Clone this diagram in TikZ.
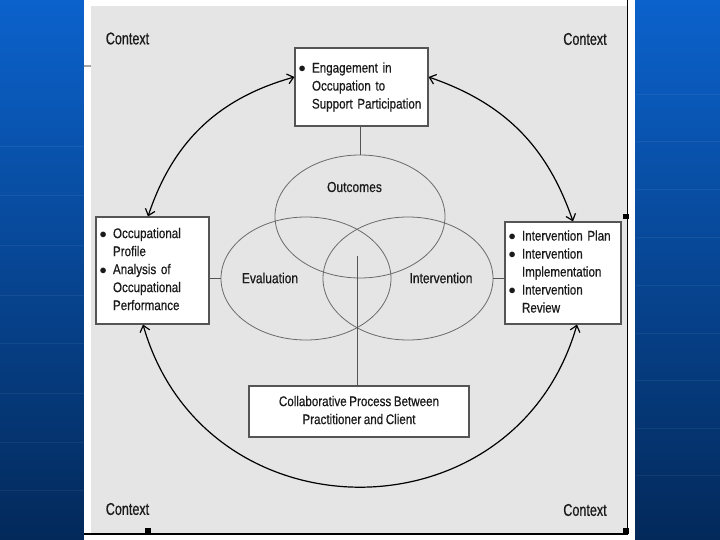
\documentclass[tikz,border=0pt]{standalone}
\usepackage{fontspec}
\setmainfont{Liberation Sans}[FakeStretch=0.83,FakeBold=0.6,WordSpace=0.8]
\newfontfamily\ctxfont{Liberation Sans}[FakeStretch=0.74,FakeBold=0.6,WordSpace=0.8]
\usetikzlibrary{shapes.geometric,arrows.meta}
\definecolor{bgtop}{HTML}{0B62CC}
\definecolor{bgbot}{HTML}{03295A}
\definecolor{panel}{HTML}{E5E5E5}
\definecolor{boxline}{HTML}{555555}
\definecolor{ellline}{HTML}{6A6A6A}
\definecolor{txt}{HTML}{1A1A1A}
\newcommand{\bul}{\llap{\makebox[17pt][l]{\hspace{3.5pt}$\bullet$}}}
\begin{document}
\begin{tikzpicture}[x=1pt,y=-1pt,
  box/.style={draw=boxline, fill=white, line width=1.1pt, inner sep=0pt, text=txt, font=\fontsize{14}{18}\selectfont},
  venn/.style={ellipse, draw=ellline, line width=0.8pt, minimum width=170pt, minimum height=123pt, inner sep=0pt},
  vlabel/.style={text=txt, font=\fontsize{14.5}{18}\selectfont, inner sep=0pt},
  ctx/.style={text=txt, font=\ctxfont\fontsize{17}{20}\selectfont, inner sep=0pt},
  link/.style={draw=boxline, line width=0.9pt},
  cycle/.style={draw=black, line width=1.2pt, {Straight Barb[length=6pt,width=10pt]}-{Straight Barb[length=6pt,width=10pt]}},
]
\useasboundingbox (0,0) rectangle (720,540);
\shade[top color=bgtop, bottom color=bgbot] (0,0) rectangle (720,540);
\foreach \yy in {147,196,245,295,343,393,442,490}
  \draw[white, opacity=0.06, line width=1pt] (0,\yy) -- (84,\yy);
\foreach \yy in {95,142,190,237,285,333,380,428,475}
  \draw[white, opacity=0.06, line width=1pt] (636,\yy) -- (720,\yy);
% panel
\fill[white] (84,0) rectangle (635,540);
\fill[panel] (91,6) rectangle (627,533);
\draw[black, line width=1.2pt] (84,534) -- (627.5,534) -- (627.5,0);
\fill[black] (623,214) rectangle (629,219);
\fill[black] (145,528) rectangle (151,534);
\fill[black] (623,528) rectangle (629,534);
\draw[gray!70, line width=1.5pt] (84,66) -- (91,66);
% context labels
\node[ctx] (c1) at (127.5,38.5) {Context};
\node[ctx] (c2) at (585,39) {Context};
\node[ctx] (c3) at (127.5,509) {Context};
\node[ctx] (c4) at (585,510) {Context};
% venn
\node[venn] (out) at (360,216.5) {};
\node[venn] (eva) at (306,278.5) {};
\node[venn] (int) at (408,278.5) {};
\node[vlabel] (outl) at (354.5,187) {Outcomes};
\node[vlabel] (eval) at (270,278) {Evaluation};
\node[vlabel] (intl) at (441,278) {Intervention};
% boxes
\node[box, minimum width=133pt, minimum height=78pt, text width=133pt, align=left] (top) at (361.5,87)
  {\begin{tabular}{@{\hspace{17pt}}l@{}}\bul Engagement in\\ Occupation to\\ Support Participation\end{tabular}};
\node[box, minimum width=113pt, minimum height=107pt, text width=113pt, align=left] (lbox) at (152.5,270.5)
  {\begin{tabular}{@{\hspace{17pt}}l@{}}\bul Occupational\\ Profile\\ \bul Analysis of\\ Occupational\\ Performance\end{tabular}};
\node[box, minimum width=116pt, minimum height=102pt, text width=116pt, align=left] (rbox) at (563,273)
  {\begin{tabular}{@{\hspace{17pt}}l@{}}\bul Intervention Plan\\ \bul Intervention\\ Implementation\\ \bul Intervention\\ Review\end{tabular}};
\node[box, minimum width=220pt, minimum height=51pt, align=center] (bbox) at (359,411.5)
  {\begin{tabular}{c}Collaborative Process Between\\ Practitioner and Client\end{tabular}};
% links
\coordinate (mid) at (357,256);
\draw[link] (out.north) -- (out.north |- top.south);
\draw[link] (eva.west) -- (eva.west -| lbox.east);
\draw[link] (int.east) -- (int.east -| rbox.west);
\draw[link] (mid) -- (mid |- bbox.north);
% cycle arcs
\draw[cycle] ([yshift=10pt]top.west) to[bend right=28] ([xshift=-4.5pt]lbox.north);
\draw[cycle] ([yshift=10pt]top.east) to[bend left=26] ([xshift=10pt]rbox.north);
\draw[cycle] ([xshift=-9.5pt]lbox.south) to[bend right=74, looseness=1.33] ([xshift=14pt]rbox.south);
\end{tikzpicture}
\end{document}
